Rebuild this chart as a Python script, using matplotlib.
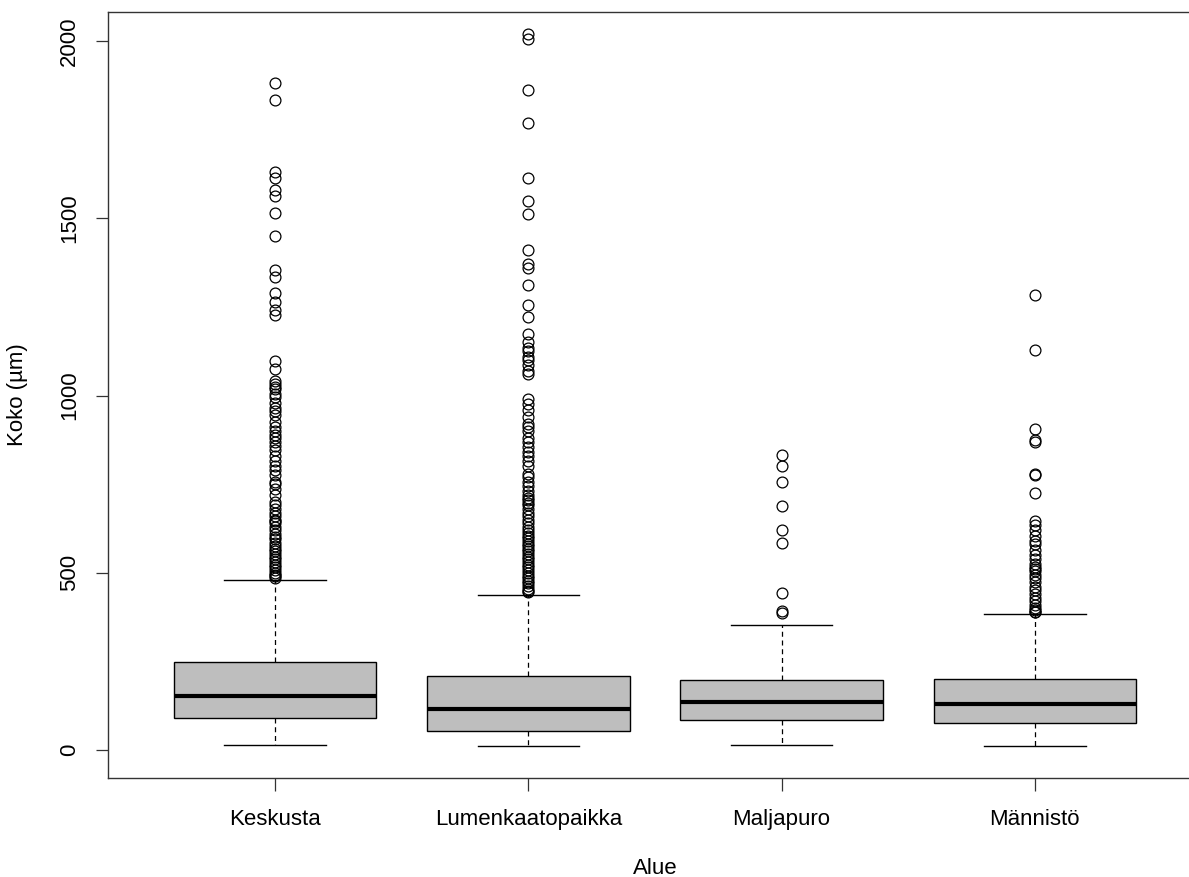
import matplotlib
matplotlib.use("Agg")
import matplotlib.pyplot as plt

plt.rcParams['font.family'] = ['Liberation Sans', 'DejaVu Sans']

categories = ["Keskusta", "Lumenkaatopaikka", "Maljapuro", "Männistö"]

# five-number summaries per area (µm)
whisker_low = [14, 11, 14, 11]
q1 = [90, 54, 85, 76]
medians = [152, 116, 135, 130]
q3 = [248, 209, 197, 200]
whisker_high = [480, 437, 353, 384]

outliers_keskusta = [1881, 1834, 1632, 1615, 1580, 1562, 1515, 1450, 1355, 1335,
                     1290, 1265, 1240, 1228, 1098, 1075, 1040, 1032, 1025, 1018,
                     1005, 995, 980, 965, 955, 945, 925, 910, 900, 890, 880, 870,
                     858, 845, 830, 815, 800, 790, 775, 755, 750, 735, 720, 700,
                     690, 680, 670, 660, 650, 645, 640, 630, 620, 610, 600, 595,
                     585, 575, 568, 560, 552, 545, 538, 530, 522, 515, 508, 500,
                     495, 490, 486]
outliers_lumenkaato = [2020, 2005, 1862, 1768, 1615, 1548, 1512, 1410, 1370, 1360,
                       1312, 1255, 1222, 1175, 1150, 1135, 1125, 1110, 1100, 1085,
                       1070, 1060, 990, 975, 960, 940, 920, 910, 900, 880, 870, 855,
                       840, 830, 815, 800, 780, 770, 755, 745, 730, 720, 712, 705,
                       698, 690, 680, 670, 660, 650, 640, 630, 620, 612, 605, 598,
                       590, 582, 575, 568, 560, 552, 545, 538, 530, 522, 515, 508,
                       500, 492, 485, 478, 470, 462, 455, 448, 445]
outliers_maljapuro = [832, 800, 755, 688, 622, 585, 443, 393, 386]
outliers_mannisto = [1285, 1128, 905, 875, 868, 778, 775, 725, 645, 635, 620, 605,
                     590, 580, 565, 550, 540, 525, 515, 510, 505, 495, 485, 475,
                     460, 450, 440, 430, 420, 410, 400, 395, 390, 388]
outliers = [outliers_keskusta, outliers_lumenkaato, outliers_maljapuro, outliers_mannisto]

y_ticks = [0, 500, 1000, 1500, 2000]

stats = []
for i, name in enumerate(categories):
    stats.append(dict(label=name, whislo=whisker_low[i], q1=q1[i], med=medians[i],
                      q3=q3[i], whishi=whisker_high[i], fliers=outliers[i]))

W, H = 1189, 877
fig = plt.figure(figsize=(W / 100, H / 100), dpi=100)
left, right, top, bottom = 108, 1202, 12, 778
ax = fig.add_axes([left / W, (H - bottom) / H, (right - left) / W, (bottom - top) / H])

ax.bxp(stats, positions=[1, 2, 3, 4], widths=0.8, patch_artist=True,
       boxprops=dict(facecolor="#BEBEBE", edgecolor="black", linewidth=1.0),
       medianprops=dict(color="black", linewidth=3.0, solid_capstyle="butt"),
       whiskerprops=dict(color="black", linewidth=0.9, linestyle=(0, (4, 3))),
       capprops=dict(color="black", linewidth=1.0),
       flierprops=dict(marker="o", markerfacecolor="none", markeredgecolor="black",
                       markersize=7.8, markeredgewidth=0.9),
       capwidths=0.4)

ax.set_xlim(0.34, 4.66)
ax.set_ylim(-79, 2082)
ax.set_yticks(y_ticks)
ax.set_yticklabels([str(v) for v in y_ticks], rotation=90, va="center")
ax.set_xticks([1, 2, 3, 4])
ax.set_xticklabels(categories)
ax.tick_params(axis="both", labelsize=16, length=9, width=0.9, color="#333333")
ax.tick_params(axis="y", pad=11)
ax.tick_params(axis="x", pad=13)
for s in ax.spines.values():
    s.set_linewidth(1.0)
    s.set_color("#333333")

ax.set_xlabel("Alue", fontsize=16, va="center")
ax.set_ylabel("Koko (µm)", fontsize=16, va="center")
ax.xaxis.set_label_coords((655 - left) / (right - left), -(868 - bottom) / (bottom - top))
ax.yaxis.set_label_coords(-(left - 18) / (right - left), (bottom - 395) / (bottom - top))

fig.savefig("out.png", dpi=100)
